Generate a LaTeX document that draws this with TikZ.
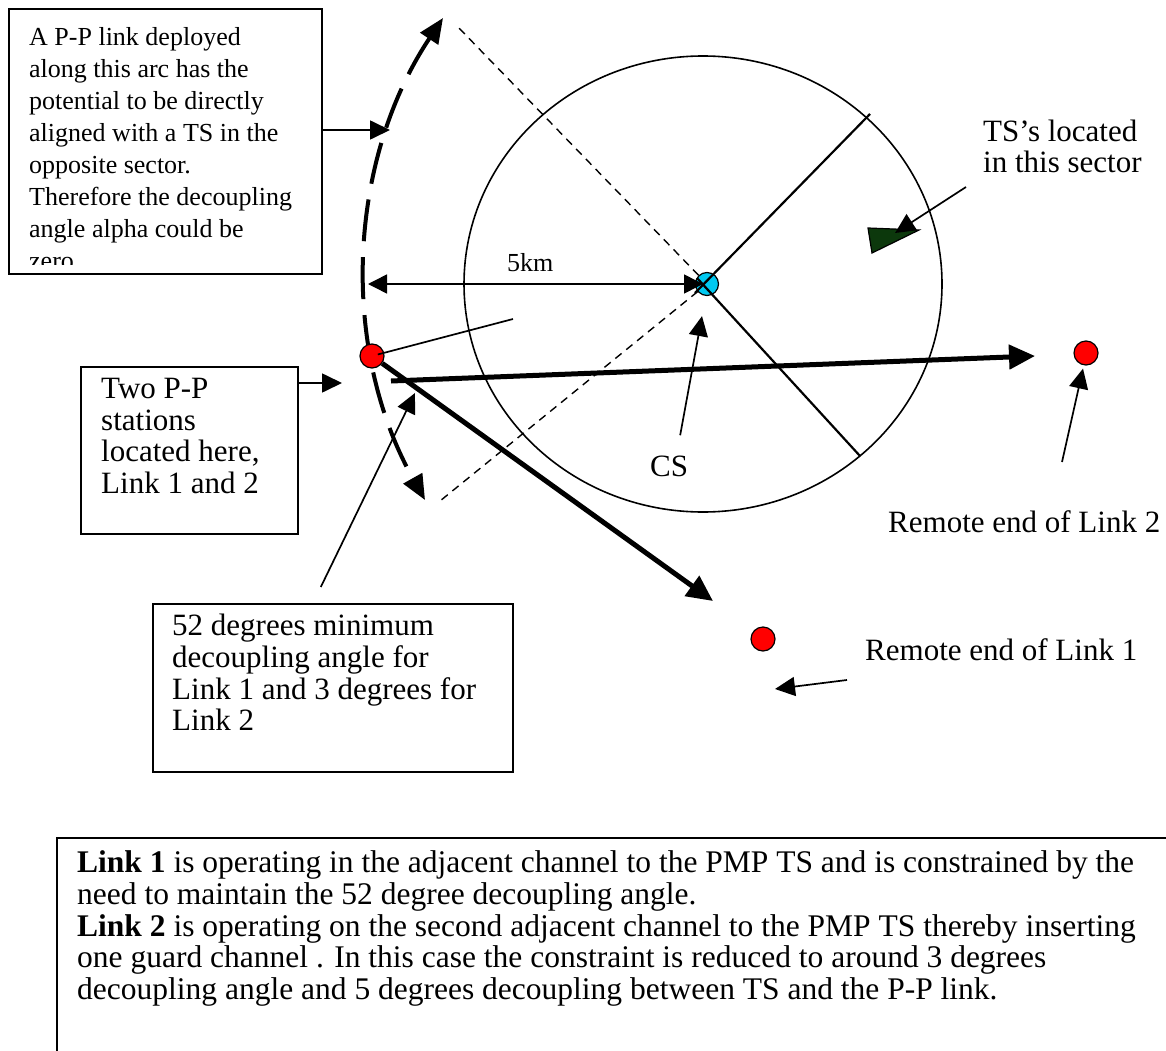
\documentclass[tikz,border=0pt]{standalone}
\usepackage{fontspec}
\setmainfont{Liberation Serif}
\usepackage{xcolor}
\usetikzlibrary{arrows.meta,positioning}

\definecolor{csblue}{RGB}{0,200,240}
\definecolor{tsgreen}{RGB}{12,56,12}

\begin{document}
\begin{tikzpicture}[
  x=1pt, y=-1pt,
  box/.style={rectangle, draw=black, line width=1.6pt, inner sep=0pt, anchor=north west},
  note/.style={align=left, inner sep=0pt, anchor=north west,
               font=\fontsize{31}{31.7}\selectfont},
  tag/.style={inner sep=0pt, anchor=base west, font=\fontsize{31}{31.7}\selectfont},
  station/.style={circle, draw=black, line width=1.2pt, fill=red,
                  minimum size=24pt, inner sep=0pt},
  arr/.style={-{Triangle[length=20pt, width=19pt]}, line width=1.7pt},
  link/.style={-{Triangle[length=26pt, width=24pt]}, line width=5pt},
  sector/.style={line width=2.2pt},
  guide/.style={dash pattern=on 8pt off 6pt, line width=1.4pt}
]
\useasboundingbox (0,0) rectangle (1166,1051);

\draw[line width=1.6pt] (703,284) ellipse [x radius=239pt, y radius=228pt];
\node[circle, draw=black, line width=1.2pt, fill=csblue, minimum size=23pt,
      inner sep=0pt] (cs) at (707,284) {};
\coordinate (guidetop) at (457,26);
\coordinate (guidebot) at (440,501);
\draw[guide] (cs) -- (guidetop);
\draw[guide] (cs) -- (guidebot);
\coordinate (sectortop) at (870,114);
\coordinate (sectorbot) at (860,456);
\draw[sector] ([shift={(-12,9)}]cs.center) -- (sectortop);
\draw[sector] ([shift={(-10,-6)}]cs.center) -- (sectorbot);

\draw[line width=1.2pt, fill=tsgreen] (868,228) -- (919,230) -- (872,253) -- cycle;
\node[note] (tslab) at (983,119.5) {TS’s located\\in this sector};
\coordinate (tsfoot) at (966,187);
\coordinate (tsmark) at (895,233);
\draw[arr] (tsfoot) -- (tsmark);

\coordinate (arctop) at (443,18);
\coordinate (arcbot) at (425,500);
\draw[line width=4pt, dash pattern=on 42pt off 16pt,
      {Triangle[length=25pt, width=21pt]}-{Triangle[length=25pt, width=21pt]}]
  (arctop) .. controls (347,162) and (340,349) .. (arcbot);

\coordinate (bar) at (368,284);
\draw[{Triangle[length=19pt, width=19pt]}-{Triangle[length=19pt, width=19pt]},
      line width=1.5pt, shorten >=4pt] (bar) -- (cs.center);
\node[tag, font=\fontsize{26}{32}\selectfont] (km) at (507,271) {5km};

\node[station] (pp) at (372,356) {};
\coordinate (ppend) at (513,319);
\draw[line width=1.7pt, shorten <=6pt] (pp.center) -- (ppend);
\coordinate (l2start) at (391,381);
\coordinate (l2tip) at (1035,356);
\draw[link] (l2start) -- (l2tip);
\coordinate (l1tip) at (713,601);
\draw[link] (pp) -- (l1tip);

\node[tag] (cslab) at (650,476) {CS};
\draw[arr] ([shift={(11,-20)}]cslab.north) -- ([shift={(-5,20)}]cs.south);

\node[station] (rem2) at (1086,353) {};
\node[station] (rem1) at (763,639) {};
\node[tag] (rem2lab) at (888,532) {Remote end of Link 2};
\node[tag] (rem1lab) at (865,660) {Remote end of Link 1};
\coordinate (rem2foot) at (1062,462);
\draw[arr] (rem2foot) -- ([shift={(-3,3)}]rem2.south);
\coordinate (rem1foot) at (847,680);
\coordinate (rem1mark) at (775,689);
\draw[arr] (rem1foot) -- (rem1mark);

\node[box, minimum width=313pt, minimum height=265pt] (arcnote) at (8,8) {};
\begin{scope}
  \clip (arcnote.north west) rectangle ([yshift=10pt]arcnote.south east);
  \node[note, font=\fontsize{26}{32}\selectfont, below right=19pt and 21pt of arcnote.north west]
    (arctext) {A P-P link deployed\\along this arc has the\\potential to be directly\\aligned with a TS in the\\opposite sector.\\Therefore the decoupling\\angle alpha could be\\zero};
\end{scope}
\coordinate (arcmark) at (390,130);
\draw[arr] (arcnote.east |- arcmark) -- (arcmark);

\node[box, minimum width=217pt, minimum height=167pt] (ppnote) at (80,366) {};
\node[note, below right=12pt and 21pt of ppnote.north west]
  (pptext) {Two P-P\\stations\\located here,\\Link 1 and 2};
\coordinate (ppmark) at (342,383);
\draw[arr] (ppnote.east |- ppmark) -- (ppmark);

\node[box, minimum width=360pt, minimum height=168pt] (degnote) at (152,603) {};
\node[note, below right=11pt and 20pt of degnote.north west]
  (degtext) {52 degrees minimum\\decoupling angle for\\Link 1 and 3 degrees for\\Link 2};
\coordinate (degmark) at (415,393);
\draw[arr] ([shift={(-12,-16)}]degnote.north) -- (degmark);

\node[box, minimum width=1150pt, minimum height=260pt] (summary) at (56,837) {};
\node[note, font=\fontsize{31.5}{31.8}\selectfont, below right=13.5pt and 21pt of summary.north west]
  (sumtext) {\textbf{Link 1} is operating in the adjacent channel to the PMP TS and is constrained by the\\need to maintain the 52 degree decoupling angle.\\\textbf{Link 2} is operating on the second adjacent channel to the PMP TS thereby inserting\\one guard channel . In this case the constraint is reduced to around 3 degrees\\decoupling angle and 5 degrees decoupling between TS and the P-P link.};
\end{tikzpicture}
\end{document}
